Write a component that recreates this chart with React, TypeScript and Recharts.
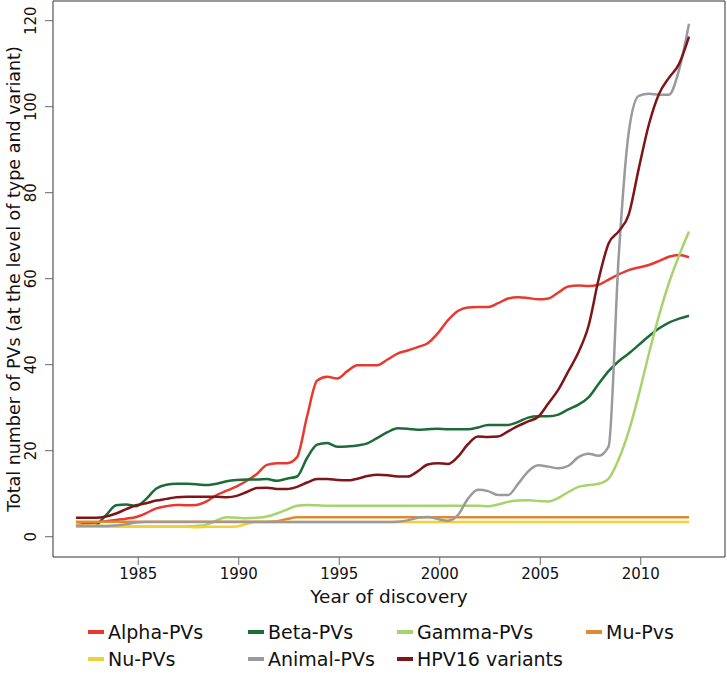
import React from 'react';
import { LineChart, Line, XAxis, YAxis, ReferenceArea, Label } from 'recharts';

// year of discovery (half-year steps)
const years = [
  1981.9, 1982.4, 1982.9, 1983.4, 1983.9, 1984.4, 1984.9, 1985.4, 1985.9, 1986.4,
  1986.9, 1987.4, 1987.9, 1988.4, 1988.9, 1989.4, 1989.9, 1990.4, 1990.9, 1991.4,
  1991.9, 1992.4, 1992.9, 1993.4, 1993.9, 1994.4, 1994.9, 1995.4, 1995.9, 1996.4,
  1996.9, 1997.4, 1997.9, 1998.4, 1998.9, 1999.4, 1999.9, 2000.4, 2000.9, 2001.4,
  2001.9, 2002.4, 2002.9, 2003.4, 2003.9, 2004.4, 2004.9, 2005.4, 2005.9, 2006.4,
  2006.9, 2007.4, 2007.9, 2008.4, 2008.9, 2009.4, 2009.9, 2010.4, 2010.9, 2011.4,
  2011.9, 2012.4,
];

const alphaPVs = [
  2.7, 3.0, 3.3, 3.6, 3.9, 4.2, 4.6, 5.5, 6.6, 7.1,
  7.4, 7.3, 7.4, 8.2, 9.7, 10.7, 11.7, 13.0, 14.6, 16.7,
  17.1, 17.1, 18.5, 28.0, 36.3, 37.2, 36.8, 38.5, 39.9, 39.9,
  39.9, 41.2, 42.6, 43.3, 44.1, 45.0, 47.3, 50.3, 52.5, 53.3,
  53.4, 53.4, 54.3, 55.4, 55.7, 55.5, 55.2, 55.4, 56.8, 58.2,
  58.4, 58.3, 58.6, 59.8, 61.0, 62.0, 62.6, 63.2, 64.1, 65.1,
  65.5, 65.0,
];

const betaPVs = [
  null, null, 2.5, 5.0, 7.3, 7.5, 7.1, 8.8, 11.2, 12.1,
  12.3, 12.3, 12.2, 12.0, 12.3, 12.9, 13.2, 13.3, 13.3, 13.4,
  13.0, 13.5, 14.0, 18.3, 21.4, 21.8, 20.9, 21.0, 21.2, 21.7,
  23.0, 24.3, 25.2, 25.1, 24.9, 25.0, 25.1, 25.0, 25.0, 25.0,
  25.4, 26.0, 26.0, 26.0, 26.7, 27.7, 28.0, 28.0, 28.4, 29.6,
  30.7, 32.4, 35.5, 38.5, 40.8, 42.6, 44.6, 46.6, 48.4, 49.8,
  50.7, 51.4,
];

const gammaPVs = [
  2.4, 2.4, 2.4, 2.4, 2.4, 2.4, 2.4, 2.4, 2.4, 2.4,
  2.4, 2.4, 2.5, 2.8, 3.8, 4.5, 4.4, 4.3, 4.4, 4.7,
  5.4, 6.3, 7.2, 7.4, 7.3, 7.2, 7.2, 7.2, 7.2, 7.2,
  7.2, 7.2, 7.2, 7.2, 7.2, 7.2, 7.2, 7.2, 7.2, 7.2,
  7.2, 7.1, 7.5, 8.1, 8.4, 8.5, 8.3, 8.2, 9.0, 10.4,
  11.6, 12.0, 12.3, 13.5, 18.0, 24.5, 33.0, 42.5, 51.3, 59.0,
  65.3, 71.0,
];

const muPVs = [
  3.5, 3.5, 3.5, 3.5, 3.5, 3.5, 3.5, 3.5, 3.5, 3.5,
  3.5, 3.5, 3.5, 3.5, 3.5, 3.5, 3.5, 3.5, 3.5, 3.5,
  3.6, 4.1, 4.5, 4.5, 4.5, 4.5, 4.5, 4.5, 4.5, 4.5,
  4.5, 4.5, 4.5, 4.5, 4.5, 4.5, 4.5, 4.5, 4.5, 4.5,
  4.5, 4.5, 4.5, 4.5, 4.5, 4.5, 4.5, 4.5, 4.5, 4.5,
  4.5, 4.5, 4.5, 4.5, 4.5, 4.5, 4.5, 4.5, 4.5, 4.5,
  4.5, 4.5,
];

const nuPVs = [
  2.6, 2.6, 2.6, 2.5, 2.5, 2.4, 2.3, 2.3, 2.3, 2.3,
  2.3, 2.3, 2.2, 2.3, 2.3, 2.3, 2.4, 3.0, 3.4, 3.4,
  3.4, 3.4, 3.4, 3.4, 3.4, 3.4, 3.4, 3.4, 3.4, 3.4,
  3.4, 3.4, 3.4, 3.4, 3.4, 3.4, 3.4, 3.4, 3.4, 3.4,
  3.4, 3.4, 3.4, 3.4, 3.4, 3.4, 3.4, 3.4, 3.4, 3.4,
  3.4, 3.4, 3.4, 3.4, 3.4, 3.4, 3.4, 3.4, 3.4, 3.4,
  3.4, 3.4,
];

const animalPVs = [
  2.5, 2.5, 2.5, 2.5, 2.6, 2.9, 3.3, 3.4, 3.4, 3.4,
  3.4, 3.4, 3.4, 3.4, 3.4, 3.4, 3.4, 3.4, 3.4, 3.4,
  3.4, 3.4, 3.4, 3.4, 3.4, 3.4, 3.4, 3.4, 3.4, 3.4,
  3.4, 3.4, 3.5, 3.8, 4.4, 4.6, 4.1, 3.7, 5.0, 8.8,
  10.9, 10.6, 9.7, 9.7, 12.3, 15.2, 16.6, 16.3, 15.9, 16.5,
  18.5, 19.3, 18.8, 21.0, 65.0, 94.0, 102.5, 103.0, 102.8, 102.8,
  108.5, 119.3,
];

const hpv16Variants = [
  4.4, 4.4, 4.4, 4.7, 5.4, 6.4, 7.3, 7.8, 8.4, 8.8,
  9.2, 9.3, 9.3, 9.3, 9.3, 9.2, 9.5, 10.4, 11.3, 11.4,
  11.1, 11.1, 11.6, 12.6, 13.4, 13.4, 13.2, 13.1, 13.5, 14.1,
  14.4, 14.3, 14.0, 14.0, 15.2, 16.8, 17.1, 16.9, 18.6, 21.5,
  23.3, 23.2, 23.3, 24.5, 25.8, 26.8, 27.9, 31.0, 34.2, 38.5,
  42.9, 49.0, 59.8, 68.2, 71.0, 74.9, 85.6, 95.8, 102.9, 106.7,
  109.9, 116.3,
];

const xTicks = [1985, 1990, 1995, 2000, 2005, 2010];
const yTicks = [0, 20, 40, 60, 80, 100, 120];
const xDomain = [1980.76, 2014.19];
const yDomain = [-4.72, 124.58];

const series = [
  { key: 'alpha', name: 'Alpha-PVs', color: '#e8392f', values: alphaPVs },
  { key: 'beta', name: 'Beta-PVs', color: '#1d6b36', values: betaPVs },
  { key: 'gamma', name: 'Gamma-PVs', color: '#a6d46c', values: gammaPVs },
  { key: 'mu', name: 'Mu-Pvs', color: '#e2892f', values: muPVs },
  { key: 'nu', name: 'Nu-PVs', color: '#f3d034', values: nuPVs },
  { key: 'animal', name: 'Animal-PVs', color: '#9a9a9e', values: animalPVs },
  { key: 'hpv16', name: 'HPV16 variants', color: '#7e1518', values: hpv16Variants },
];

const chartData = years.map((year, i) => {
  const row: any = { year };
  series.forEach((s) => {
    row[s.key] = s.values[i];
  });
  return row;
});

const FONT = '"DejaVu Sans", sans-serif';

// legend slots: [left of key, vertical centre]
const legendPos = [
  [88, 632], [248, 632], [397, 632], [586, 632],
  [88, 659], [248, 659], [397, 659],
];

const YTick = ({ y, payload }: any) => (
  <text
    x={36}
    y={y}
    transform={`rotate(-90, 36, ${y})`}
    textAnchor="middle"
    fontSize={15}
    fill="#111"
    fontFamily={FONT}
  >
    {payload.value}
  </text>
);

const App: React.FC = () => {
  return (
    <div style={{ position: 'absolute', left: 0, top: 0, width: 727, height: 676, background: '#fff', fontFamily: FONT }}>
      <LineChart width={727} height={676} data={chartData} margin={{ top: 1, right: 2, bottom: 69, left: 0 }}>
        <XAxis
          dataKey="year"
          type="number"
          domain={xDomain}
          ticks={xTicks}
          allowDataOverflow
          axisLine={false}
          tickSize={8}
          tickMargin={3}
          height={50}
          tickLine={{ stroke: '#666' }}
          tick={{ fontSize: 15, fill: '#111', fontFamily: FONT }}
        >
          <Label value="Year of discovery" position="insideBottom" offset={4} style={{ fontSize: 18.5, fill: '#111', fontFamily: FONT }} />
        </XAxis>
        <YAxis
          type="number"
          domain={yDomain}
          ticks={yTicks}
          allowDataOverflow
          axisLine={false}
          tickSize={8}
          width={53}
          tickLine={{ stroke: '#666' }}
          tick={<YTick />}
        >
          <Label
            value="Total number of PVs (at the level of type and variant)"
            angle={-90}
            position="insideLeft"
            offset={14}
            style={{ textAnchor: 'middle', fontSize: 17.5, fill: '#111', fontFamily: FONT }}
          />
        </YAxis>
        <ReferenceArea
          x1={xDomain[0]}
          x2={xDomain[1]}
          y1={yDomain[0]}
          y2={yDomain[1]}
          fill="none"
          fillOpacity={0}
          stroke="#333"
          strokeWidth={1}
          ifOverflow="visible"
        />
        {series.map((s) => (
          <Line
            key={s.key}
            dataKey={s.key}
            name={s.name}
            type="monotone"
            stroke={s.color}
            strokeWidth={2.5}
            dot={false}
            activeDot={false}
            isAnimationActive={false}
          />
        ))}
      </LineChart>
      {series.map((s, i) => (
        <div
          key={s.key}
          style={{
            position: 'absolute',
            left: legendPos[i][0],
            top: legendPos[i][1] - 12,
            height: 24,
            display: 'flex',
            alignItems: 'center',
            fontSize: 19,
            color: '#111',
            whiteSpace: 'nowrap',
          }}
        >
          <span style={{ display: 'inline-block', width: 16, height: 4, background: s.color, marginRight: 4 }} />
          {s.name}
        </div>
      ))}
    </div>
  );
};

export default App;
